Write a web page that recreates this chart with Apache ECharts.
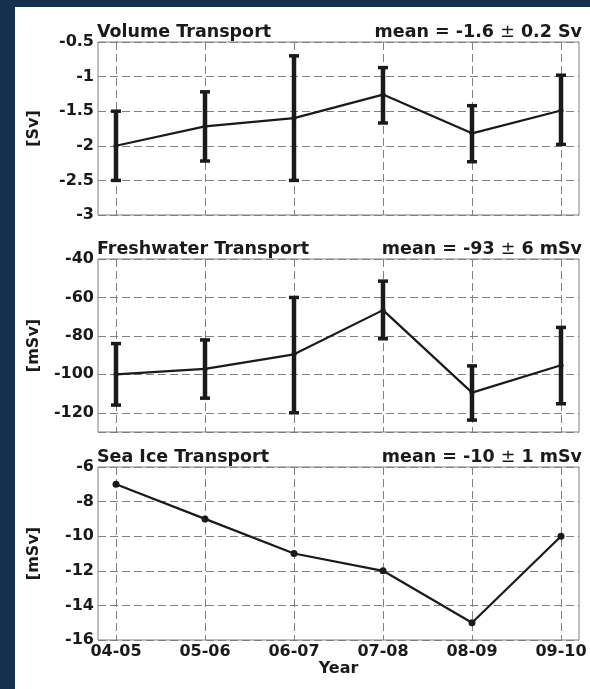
<!DOCTYPE html>
<html>
<head>
<meta charset="utf-8">
<script src="https://cdn.jsdelivr.net/npm/echarts@6/dist/echarts.min.js"></script>
<style>
html,body{margin:0;padding:0;background:#fff;}
#chart{width:590px;height:689px;}
</style>
</head>
<body>
<div id="chart"></div>
<script>
const categories = ['04-05','05-06','06-07','07-08','08-09','09-10'];
const volumeValues = [-2.0, -1.72, -1.60, -1.26, -1.82, -1.49];
const volumeLow    = [-2.5, -2.22, -2.50, -1.67, -2.23, -1.98];
const volumeHigh   = [-1.5, -1.22, -0.70, -0.87, -1.42, -0.98];
const freshValues  = [-100, -97.2, -89.6, -66.6, -109.5, -95.3];
const freshLow     = [-116, -112.4, -120, -81.5, -123.8, -115.3];
const freshHigh    = [-84, -82.1, -60, -51.5, -95.6, -75.6];
const iceValues    = [-7, -9, -11, -12, -15, -10];
const panelTitles  = ['Volume Transport', 'Freshwater Transport', 'Sea Ice Transport'];
const meanLabels   = ['mean = -1.6 \u00B1 0.2 Sv', 'mean = -93 \u00B1 6 mSv', 'mean = -10 \u00B1 1 mSv'];
const unitLabels   = ['[Sv]', '[mSv]', '[mSv]'];
const yMins        = [-3, -130, -16];
const yMaxs        = [-0.5, -40, -6];
const yIntervals   = [0.5, null, 2];
const xAxisTitle   = 'Year';

const FONT = 'DejaVu Sans, Liberation Sans, Arial, sans-serif';
const INK = '#1a1a1a';
const GRIDC = '#808080';
const panelTops = [42, 259, 467];
const panelH = 173;

const chart = echarts.init(document.getElementById('chart'), null, {renderer: 'canvas'});

const grids = [], xAxes = [], yAxes = [], series = [], titles = [];
const lineData = [volumeValues, freshValues, iceValues];
const lowData = [volumeLow, freshLow, null];
const highData = [volumeHigh, freshHigh, null];

function errorRender(params, api) {
  const x = api.value(0);
  const lo = api.coord([x, api.value(1)]);
  const hi = api.coord([x, api.value(2)]);
  const cap = 5;
  return {
    type: 'group',
    children: [
      {type: 'line', shape: {x1: lo[0], y1: lo[1], x2: hi[0], y2: hi[1]}, style: {stroke: INK, lineWidth: 4.5}},
      {type: 'line', shape: {x1: hi[0] - cap, y1: hi[1], x2: hi[0] + cap, y2: hi[1]}, style: {stroke: INK, lineWidth: 3.5}},
      {type: 'line', shape: {x1: lo[0] - cap, y1: lo[1], x2: lo[0] + cap, y2: lo[1]}, style: {stroke: INK, lineWidth: 3.5}}
    ]
  };
}

const txt = (size) => ({color: INK, fontFamily: FONT, fontWeight: 'bold', fontSize: size});

for (let p = 0; p < 3; p++) {
  const top = panelTops[p];
  const fi = 2 * p, di = 2 * p + 1;
  grids.push({left: 98, right: 11, top: top, height: panelH, show: true, borderColor: GRIDC, borderWidth: 1, backgroundColor: 'transparent'});
  grids.push({left: 116, right: 29, top: top, height: panelH});

  xAxes.push({type: 'value', gridIndex: fi, min: 0, max: 1, show: false});
  const yFrame = {
    type: 'value', gridIndex: fi, min: yMins[p], max: yMaxs[p],
    axisLine: {show: false}, axisTick: {show: false},
    axisLabel: Object.assign(txt(16), {margin: 4, showMinLabel: p !== 1}),
    splitLine: {show: true, lineStyle: {color: GRIDC, type: [8, 4], width: 1}},
    name: unitLabels[p], nameLocation: 'middle', nameGap: 56,
    nameTextStyle: txt(16)
  };
  if (yIntervals[p] !== null) yFrame.interval = yIntervals[p]; else yFrame.splitNumber = 5;
  yAxes.push(yFrame);

  const isLast = p === 2;
  xAxes.push({
    type: 'category', gridIndex: di, data: categories, boundaryGap: false,
    axisLine: {show: false}, axisTick: {show: false},
    axisLabel: Object.assign(txt(16), {show: isLast, margin: 4, interval: 0}),
    splitLine: {show: true, lineStyle: {color: GRIDC, type: [8, 4], width: 1}},
    name: isLast ? xAxisTitle : '', nameLocation: 'middle', nameGap: 20,
    nameTextStyle: txt(16)
  });
  yAxes.push({type: 'value', gridIndex: di, min: yMins[p], max: yMaxs[p], show: false, splitLine: {show: false}});

  if (lowData[p]) {
    series.push({
      type: 'custom', xAxisIndex: di, yAxisIndex: di, z: 2,
      renderItem: errorRender,
      data: categories.map((c, i) => [i, lowData[p][i], highData[p][i]]),
      silent: true
    });
  }
  series.push({
    type: 'line', xAxisIndex: di, yAxisIndex: di, z: 3,
    data: lineData[p],
    symbol: 'circle', symbolSize: isLast ? 7 : 5,
    itemStyle: {color: INK},
    lineStyle: {color: INK, width: 2.2},
    animation: false
  });

  titles.push({text: panelTitles[p], left: 97, top: top - 19, padding: 0, textStyle: txt(17.5)});
  titles.push({text: meanLabels[p].replace('\u00B1', '{pm|\u00B1}'), right: 8, top: top - 19, padding: 0,
    textStyle: Object.assign(txt(17.5), {rich: {pm: {color: INK, fontFamily: FONT, fontWeight: 'normal', fontSize: 17.5}}})});
}

chart.setOption({
  animation: false,
  backgroundColor: '#ffffff',
  title: titles,
  grid: grids,
  xAxis: xAxes,
  yAxis: yAxes,
  series: series,
  graphic: [
    {type: 'rect', shape: {x: 0, y: 0, width: 15, height: 689}, style: {fill: '#14304e'}, silent: true},
    {type: 'rect', shape: {x: 0, y: 0, width: 590, height: 7}, style: {fill: '#14304e'}, silent: true}
  ]
});
</script>
</body>
</html>
